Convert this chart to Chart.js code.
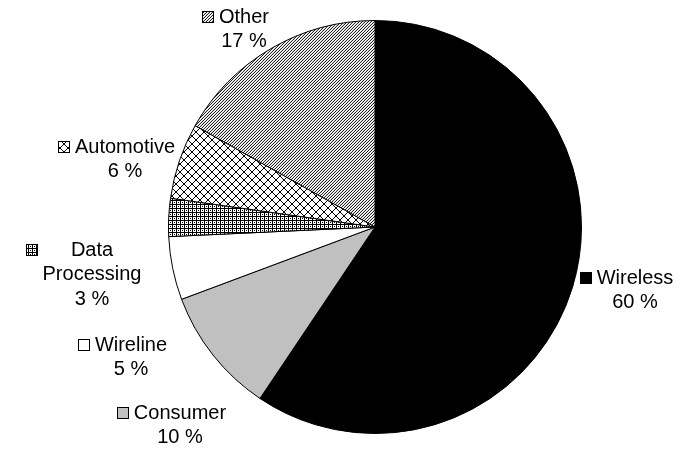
<!DOCTYPE html>
<html>
<head>
<meta charset="utf-8">
<script src="https://cdn.jsdelivr.net/npm/chart.js@4.4.1/dist/chart.umd.min.js"></script>
<style>
html, body { margin: 0; padding: 0; background: #fff; }
</style>
</head>
<body>
<canvas id="pieChart" width="691" height="451"></canvas>
<script>
const segments = ['Wireless', 'Consumer', 'Wireline', 'Data Processing', 'Automotive', 'Other'];
const shares = [60, 10, 5, 3, 6, 17];
// how each segment name is broken over lines in its label
const labelLines = [['Wireless'], ['Consumer'], ['Wireline'], ['Data', 'Processing'], ['Automotive'], ['Other']];
// label block position relative to the pie centre (x of text centre, y of first line)
const labelOffsets = [[260, 51], [-195, 186], [-244, 118], [-283, 23], [-250, -80], [-131, -210]];

// small black/white tiles used as hatch fills
function makePattern(size, draw) {
    const tile = document.createElement('canvas');
    tile.width = size;
    tile.height = size;
    const g = tile.getContext('2d');
    g.fillStyle = '#fff';
    g.fillRect(0, 0, size, size);
    g.fillStyle = '#000';
    draw(g, size);
    return g.createPattern(tile, 'repeat');
}

// fine "/" stripes with a soft edge
const diagonal = makePattern(3, (g, n) => {
    for (let i = 0; i < n; i++) {
        g.fillStyle = '#222';
        g.fillRect(n - 1 - i, i, 1, 1);
        g.fillStyle = '#dcdcdc';
        g.fillRect((2 * n - 2 - i) % n, i, 1, 1);
    }
});
const lattice = makePattern(8, (g, n) => {
    for (let i = 0; i < n; i++) {
        g.fillRect(i, i, 1, 1);
        g.fillRect(n - 1 - i, i, 1, 1);
    }
});
const grid = makePattern(4, (g, n) => {
    g.fillRect(0, 0, n, 1);
    g.fillRect(0, 0, 1, n);
    g.fillRect(2, 2, 1, 1);
});

const fills = ['#000000', '#c0c0c0', '#ffffff', grid, lattice, diagonal];

const outsideLabels = {
    id: 'outsideLabels',
    afterDraw(chart) {
        const ctx = chart.ctx;
        const meta = chart.getDatasetMeta(0);
        const bg = chart.data.datasets[0].backgroundColor;
        ctx.save();
        ctx.font = '20px "Liberation Sans", Arial, sans-serif';
        ctx.textAlign = 'center';
        ctx.textBaseline = 'middle';
        meta.data.forEach((arc, i) => {
            const lines = labelLines[i].concat([shares[i] + ' %']);
            const cx = arc.x + labelOffsets[i][0];
            const y = arc.y + labelOffsets[i][1];
            const widest = Math.max(...lines.map(t => ctx.measureText(t).width));
            const kx = Math.round(cx - widest / 2 - 5 - 12);
            const ky = Math.round(y - 6);
            ctx.fillStyle = bg[i];
            ctx.fillRect(kx, ky, 12, 12);
            ctx.strokeStyle = '#000';
            ctx.lineWidth = 1;
            ctx.strokeRect(kx + 0.5, ky + 0.5, 11, 11);
            ctx.fillStyle = '#000';
            lines.forEach((t, j) => ctx.fillText(t, cx, y + j * 24.5));
        });
        ctx.restore();
    }
};

const ctx = document.getElementById('pieChart').getContext('2d');
const pieChart = new Chart(ctx, {
    type: 'pie',
    data: {
        labels: segments,
        datasets: [{
            data: shares,
            backgroundColor: fills,
            borderColor: '#000',
            borderWidth: 1,
            hoverOffset: 0,
            offset: 0,
        }],
    },
    options: {
        responsive: false,
        animation: false,
        layout: {
            padding: { left: 168, right: 109, top: 20, bottom: 17 },
        },
        plugins: {
            legend: { display: false },
            tooltip: { enabled: false },
        },
    },
    plugins: [outsideLabels],
});
</script>
</body>
</html>
